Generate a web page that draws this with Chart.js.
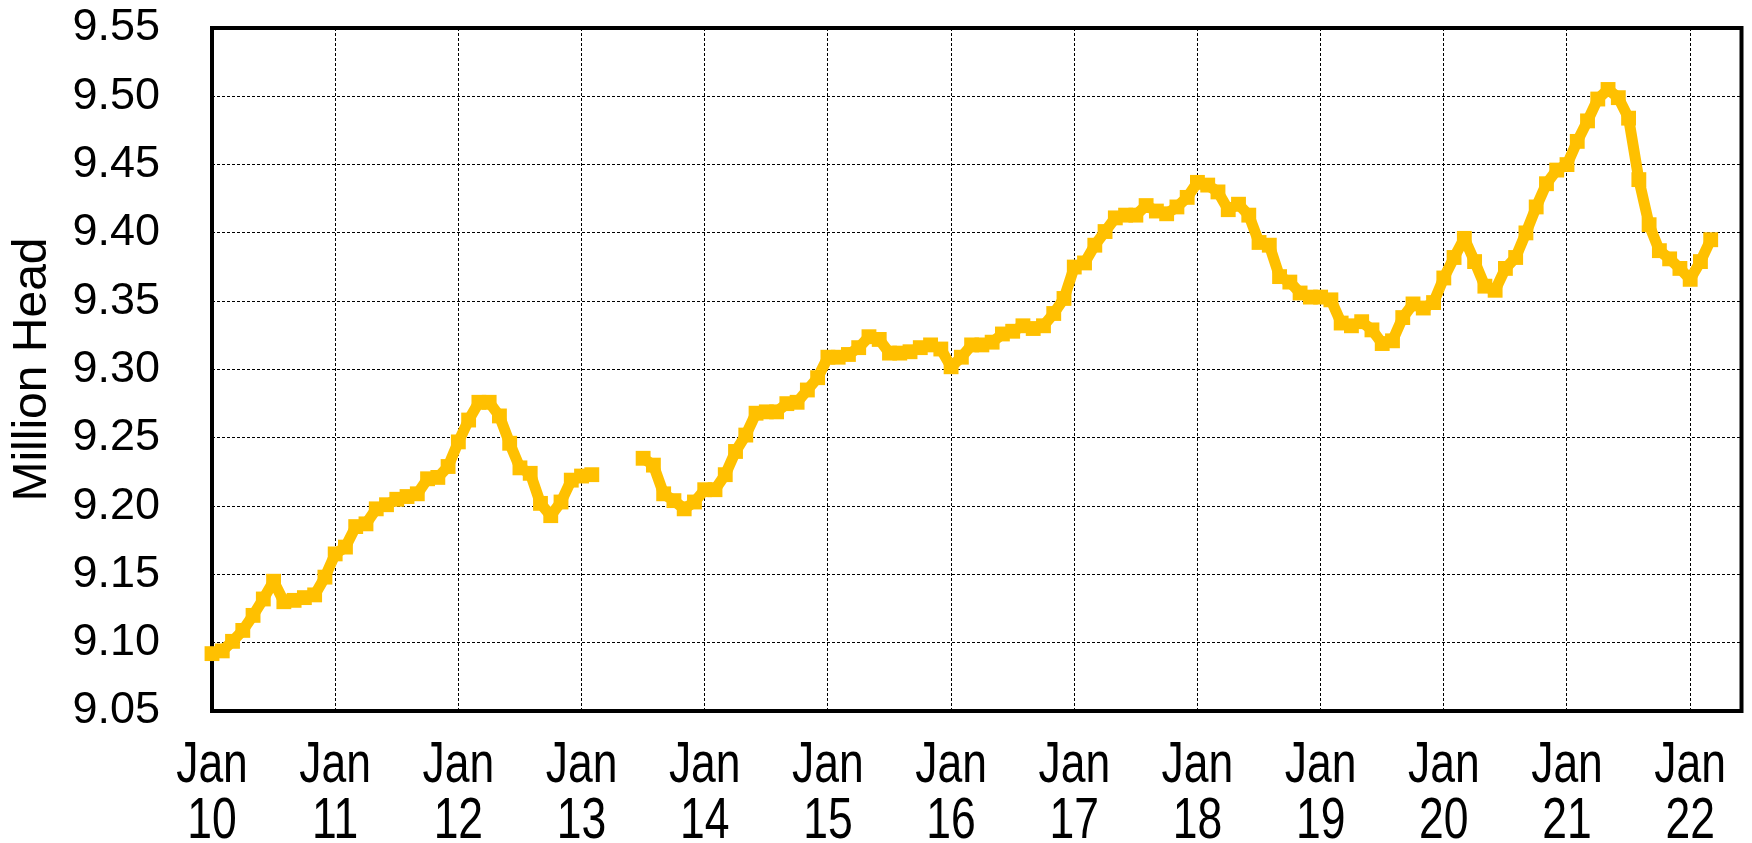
<!DOCTYPE html>
<html>
<head>
<meta charset="utf-8">
<script src="https://cdn.jsdelivr.net/npm/chart.js@4.4.1/dist/chart.umd.min.js"></script>
<style>
  html, body { margin: 0; padding: 0; background: #fff; }
  #wrap { width: 1752px; height: 843px; }
</style>
</head>
<body>
<div id="wrap"><canvas id="chart"></canvas></div>
<script>
// million head, one value per month starting Jan 2010 (null = not reported)
var herd = [
  9.092, 9.094, 9.101, 9.109, 9.120, 9.132, 9.145, 9.130, 9.131, 9.133, 9.135, 9.148,
  9.165, 9.170, 9.185, 9.187, 9.198, 9.201, 9.205, 9.207, 9.209, 9.220, 9.221, 9.229,
  9.247, 9.263, 9.276, 9.276, 9.266, 9.246, 9.228, 9.224, 9.202, 9.193, 9.203, 9.219,
  9.222, 9.223, null, null, null, null, 9.235, 9.230, 9.209, 9.204, 9.198, 9.203,
  9.212, 9.212, 9.223, 9.240, 9.252, 9.268, 9.269, 9.269, 9.275, 9.276, 9.285, 9.294,
  9.309, 9.309, 9.311, 9.316, 9.324, 9.322, 9.312, 9.312, 9.313, 9.316, 9.318, 9.315,
  9.302, 9.309, 9.318, 9.318, 9.320, 9.326, 9.328, 9.332, 9.330, 9.332, 9.341, 9.352,
  9.375, 9.378, 9.391, 9.401, 9.411, 9.413, 9.413, 9.420, 9.416, 9.414, 9.419, 9.426,
  9.437, 9.435, 9.430, 9.417, 9.421, 9.413, 9.393, 9.391, 9.368, 9.364, 9.356, 9.353,
  9.353, 9.351, 9.334, 9.332, 9.335, 9.329, 9.319, 9.321, 9.338, 9.348, 9.345, 9.349,
  9.367, 9.382, 9.396, 9.379, 9.361, 9.358, 9.374, 9.382, 9.400, 9.419, 9.436, 9.446,
  9.450, 9.467, 9.482, 9.498, 9.505, 9.499, 9.484, 9.439, 9.406, 9.387, 9.381, 9.374,
  9.366, 9.379, 9.395
];
var yearTicks = [0, 12, 24, 36, 48, 60, 72, 84, 96, 108, 120, 132, 144];
var yearLabels = ['10', '11', '12', '13', '14', '15', '16', '17', '18', '19', '20', '21', '22'];
var valueTicks = [9.05, 9.10, 9.15, 9.20, 9.25, 9.30, 9.35, 9.40, 9.45, 9.50, 9.55];

let lineColor = '#FFC000';
let gridColor = '#000';
let fontFamily = "'Liberation Sans', Arial, sans-serif";

var points = herd.map(function(v, i) { return { x: i, y: v }; });

// black frame round the plot area, drawn under the line
var frame = {
    id: 'frame',
    beforeDatasetsDraw: function(chart) {
        var a = chart.chartArea;
        var ctx = chart.ctx;
        ctx.save();
        ctx.strokeStyle = '#000';
        ctx.lineWidth = 4;
        ctx.strokeRect(a.left, a.top, a.right - a.left, a.bottom - a.top);
        ctx.restore();
    }
};

// the month/year labels are narrow in the original, so squeeze them a bit
var yearLabelsPlugin = {
    id: 'yearLabels',
    afterDraw: function(chart) {
        var xs = chart.scales.x;
        var ctx = chart.ctx;
        var base = chart.chartArea.bottom;
        ctx.save();
        ctx.fillStyle = '#000';
        ctx.font = '57px ' + fontFamily;
        ctx.textAlign = 'center';
        ctx.textBaseline = 'middle';
        for (var k = 0; k < yearTicks.length; k++) {
            var x = xs.getPixelForValue(yearTicks[k]);
            ctx.save();
            ctx.translate(x, base);
            ctx.scale(0.78, 1);
            ctx.fillText('Jan', 0, 55);
            ctx.fillText(yearLabels[k], 0, 111);
            ctx.restore();
        }
        ctx.restore();
    }
};

var ctx = document.getElementById('chart');
var chart = new Chart(ctx, {
    type: 'line',
    data: {
        datasets: [{
            data: points,
            borderColor: lineColor,
            backgroundColor: lineColor,
            borderWidth: 11,
            borderJoinStyle: 'round',
            tension: 0,
            spanGaps: false,
            pointStyle: 'rect',
            pointRadius: 10.5,
            pointBorderWidth: 0,
            pointBackgroundColor: lineColor,
            clip: false
        }]
    },
    options: {
        responsive: true,
        maintainAspectRatio: false,
        animation: false,
        layout: {
            padding: { top: 28, right: 9, left: 0, bottom: 0 }
        },
        plugins: {
            legend: { display: false },
            tooltip: { enabled: false }
        },
        scales: {
            x: {
                type: 'linear',
                min: 0,
                max: 149,
                afterBuildTicks: function(scale) {
                    scale.ticks = yearTicks.map(function(v) { return { value: v }; });
                },
                afterFit: function(scale) {
                    scale.height = 843 - 711;
                    scale.paddingLeft = 0;
                    scale.paddingRight = 0;
                },
                grid: {
                    color: gridColor,
                    lineWidth: 1,
                    drawTicks: false
                },
                border: { display: false, dash: [3, 2] },
                ticks: { display: false }
            },
            y: {
                min: 9.05,
                max: 9.55,
                afterBuildTicks: function(scale) {
                    scale.ticks = valueTicks.map(function(v) { return { value: v }; });
                },
                afterFit: function(scale) {
                    scale.width = 212;
                    scale.paddingTop = 0;
                    scale.paddingBottom = 0;
                },
                grid: {
                    color: gridColor,
                    lineWidth: 1,
                    drawTicks: false
                },
                border: { display: false, dash: [3, 2] },
                ticks: {
                    padding: 52,
                    color: '#000',
                    font: { family: fontFamily, size: 45 },
                    callback: function(value) { return value.toFixed(2); }
                },
                title: {
                    display: true,
                    text: 'Million Head',
                    color: '#000',
                    padding: { top: 4, bottom: 0 },
                    font: { family: fontFamily, size: 48 }
                }
            }
        }
    },
    plugins: [frame, yearLabelsPlugin]
});
</script>
</body>
</html>
